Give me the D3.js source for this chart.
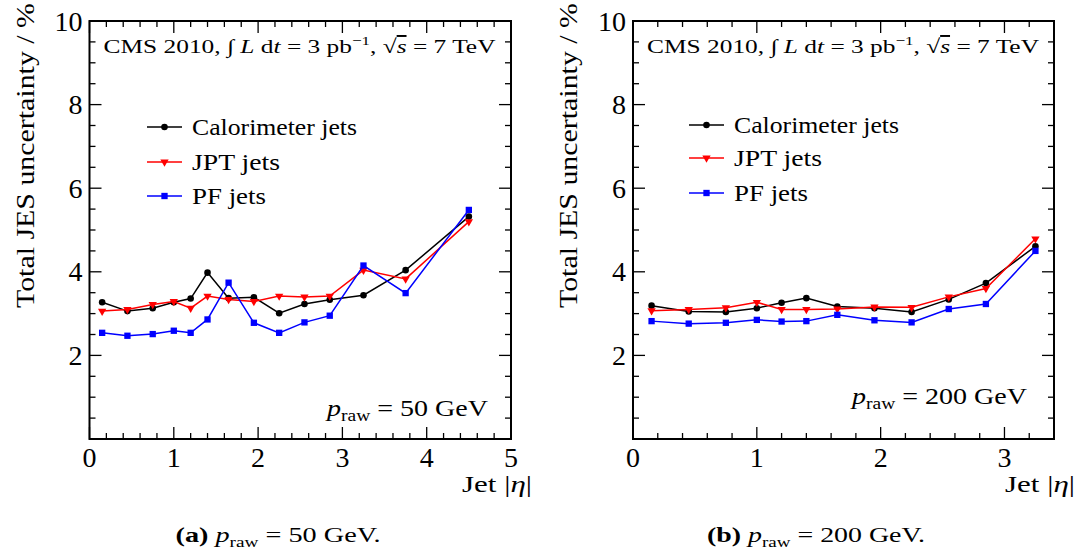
<!DOCTYPE html>
<html><head><meta charset="utf-8">
<script src="https://cdn.jsdelivr.net/npm/d3@7"></script>
<style>
body{margin:0;background:#fff;}
svg text{font-family:"Liberation Serif","DejaVu Serif",serif;fill:#000;}
</style></head>
<body><svg id="c" width="1079" height="555"></svg>
<script>
// ---- data ----
const etaA = [0.15,0.45,0.75,1.0,1.2,1.4,1.65,1.95,2.25,2.55,2.85,3.25,3.75,4.5];
const caloA = [3.27,3.06,3.13,3.27,3.36,3.98,3.37,3.39,3.01,3.23,3.33,3.44,4.04,5.32];
const jptA  = [3.06,3.10,3.22,3.29,3.13,3.42,3.34,3.29,3.42,3.40,3.42,4.04,3.83,5.20];
const pfA   = [2.54,2.47,2.51,2.59,2.54,2.86,3.74,2.78,2.54,2.79,2.95,4.15,3.49,5.48];

const etaB = [0.15,0.45,0.75,1.0,1.2,1.4,1.65,1.95,2.25,2.55,2.85,3.25];
const caloB = [3.19,3.05,3.04,3.13,3.26,3.37,3.17,3.13,3.04,3.34,3.73,4.61];
const jptB  = [3.07,3.10,3.14,3.27,3.10,3.10,3.11,3.16,3.15,3.40,3.60,4.79];
const pfB   = [2.82,2.76,2.78,2.85,2.81,2.82,2.97,2.84,2.79,3.11,3.23,4.50];

const xTicksA = [0,1,2,3,4,5];
const xTicksB = [0,1,2,3];
const yTickLabels = [2,4,6,8,10];
const seriesNames = ["Calorimeter jets","JPT jets","PF jets"];
const seriesColors = ["#000000","#ff0000","#0000ff"];
const seriesSymbols = [d3.symbolCircle, d3.symbolTriangle, d3.symbolSquare];

const svg = d3.select("#c");
const FF = "'Liberation Serif', 'DejaVu Serif', serif";
const SG = "spacingAndGlyphs";

function panel(o){
  const x = d3.scaleLinear().domain([0,o.xmax]).range([o.x0,o.x1]);
  const y = d3.scaleLinear().domain([0,10]).range([o.y0,o.y1]);
  const g = svg.append("g").attr("font-family",FF);
  const xMinor = d3.range(0, o.xmax+1e-9, 0.2);
  const yMinor = d3.range(0, 10+1e-9, 0.5);
  xMinor.forEach(v=>{
    const major = Math.abs(v-Math.round(v))<1e-6;
    const L = major?12:6;
    g.append("line").attr("x1",x(v)).attr("x2",x(v)).attr("y1",o.y0).attr("y2",o.y0-L).attr("stroke","#000").attr("stroke-width",1.3);
    g.append("line").attr("x1",x(v)).attr("x2",x(v)).attr("y1",o.y1).attr("y2",o.y1+L).attr("stroke","#000").attr("stroke-width",1.3);
  });
  yMinor.forEach(v=>{
    const major = Math.abs(v/2-Math.round(v/2))<1e-6;
    const L = major?12:6;
    g.append("line").attr("y1",y(v)).attr("y2",y(v)).attr("x1",o.x0).attr("x2",o.x0+L).attr("stroke","#000").attr("stroke-width",1.3);
    g.append("line").attr("y1",y(v)).attr("y2",y(v)).attr("x1",o.x1).attr("x2",o.x1-L).attr("stroke","#000").attr("stroke-width",1.3);
  });
  g.append("rect").attr("x",o.x0).attr("y",o.y1).attr("width",o.x1-o.x0).attr("height",o.y0-o.y1)
    .attr("fill","none").attr("stroke","#000").attr("stroke-width",2);
  // tick labels
  o.xTicks.forEach(v=>{
    g.append("text").attr("x",x(v)).attr("y",o.y0+28).attr("text-anchor","middle").attr("font-size",28).text(v);
  });
  yTickLabels.forEach(v=>{
    g.append("text").attr("x",o.x0-7).attr("y",y(v)+9.5).attr("text-anchor","end").attr("font-size",28).text(v);
  });
  // axis titles
  g.append("text").attr("transform",`translate(${o.x0-56},3) rotate(-90)`)
    .attr("x",-305).attr("font-size",26)
    .attr("textLength",305).attr("lengthAdjust",SG)
    .text("Total JES uncertainty / %");
  const xl = g.append("text").attr("x",o.x1-49).attr("y",o.y0+53).attr("font-size",23)
    .attr("textLength",70).attr("lengthAdjust",SG);
  xl.append("tspan").text("Jet |");
  xl.append("tspan").attr("font-style","italic").text("η");
  xl.append("tspan").text("|");
  // header
  const h = g.append("text").attr("x",o.x0+14).attr("y",o.y1+32).attr("font-size",19.5)
    .attr("textLength",392).attr("lengthAdjust",SG);
  h.append("tspan").text("CMS 2010,  ∫ ");
  h.append("tspan").attr("font-style","italic").text("L");
  h.append("tspan").text(" d");
  h.append("tspan").attr("font-style","italic").text("t");
  h.append("tspan").text(" = 3 pb");
  h.append("tspan").attr("font-size",13).attr("dy",-8).text("−1");
  h.append("tspan").attr("dy",8).text(",  √");
  h.append("tspan").attr("font-style","italic").style("text-decoration","overline").text("s");
  h.append("tspan").text(" = 7 TeV");
  // p_raw label
  const p = g.append("text").attr("x",o.pX-o.pW).attr("y",o.pY).attr("font-size",23)
    .attr("textLength",o.pW).attr("lengthAdjust",SG);
  p.append("tspan").attr("font-style","italic").text("p");
  p.append("tspan").attr("font-size",16).attr("dy",5).text("raw");
  p.append("tspan").attr("dy",-5).text(" = " + o.pVal + " GeV");
  // series
  const line = d3.line().x(d=>x(d[0])).y(d=>y(d[1]));
  o.series.forEach((vals,i)=>{
    const pts = o.eta.map((e,k)=>[e,vals[k]]);
    g.append("path").attr("d",line(pts)).attr("fill","none").attr("stroke",seriesColors[i]).attr("stroke-width",1.5);
    const sz = i===0?34:(i===1?30:40);
    g.selectAll(null).data(pts).enter().append("path")
      .attr("d",d3.symbol().type(seriesSymbols[i]).size(sz))
      .attr("transform",d=>`translate(${x(d[0])},${y(d[1])})${i===1?" rotate(180)":""}`)
      .attr("fill",seriesColors[i]);
  });
  // legend
  const legW = [165,88,74];
  o.legY.forEach((ly,i)=>{
    g.append("line").attr("x1",o.legX).attr("x2",o.legX+35).attr("y1",ly).attr("y2",ly).attr("stroke",seriesColors[i]).attr("stroke-width",1.5);
    const sz = i===0?34:(i===1?30:40);
    g.append("path").attr("d",d3.symbol().type(seriesSymbols[i]).size(sz))
      .attr("transform",`translate(${o.legX+17.5},${ly})${i===1?" rotate(180)":""}`).attr("fill",seriesColors[i]);
    g.append("text").attr("x",o.legX+45).attr("y",ly+8).attr("font-size",23)
      .attr("textLength",legW[i]).attr("lengthAdjust",SG).text(seriesNames[i]);
  });
  // caption
  const c = svg.append("text").attr("font-family",FF).attr("x",o.capX-o.capW/2).attr("y",542).attr("font-size",22)
    .attr("textLength",o.capW).attr("lengthAdjust",SG);
  c.append("tspan").attr("font-weight","bold").text(o.capL);
  c.append("tspan").text(" ");
  c.append("tspan").attr("font-style","italic").text("p");
  c.append("tspan").attr("font-size",15).attr("dy",5).text("raw");
  c.append("tspan").attr("dy",-5).text(" = " + o.pVal + " GeV.");
}

panel({x0:89.5,x1:511,y0:439,y1:21,xmax:5,xTicks:xTicksA,eta:etaA,series:[caloA,jptA,pfA],
  pX:488,pW:161,pY:416,pVal:50,legX:147,legY:[127,162,196],capX:278,capW:205,capL:"(a)"});
panel({x0:633,x1:1054,y0:439,y1:21,xmax:3.4,xTicks:xTicksB,eta:etaB,series:[caloB,jptB,pfB],
  pX:1027,pW:175,pY:404,pVal:200,legX:689,legY:[125,158,193],capX:816,capW:218,capL:"(b)"});
</script></body></html>
